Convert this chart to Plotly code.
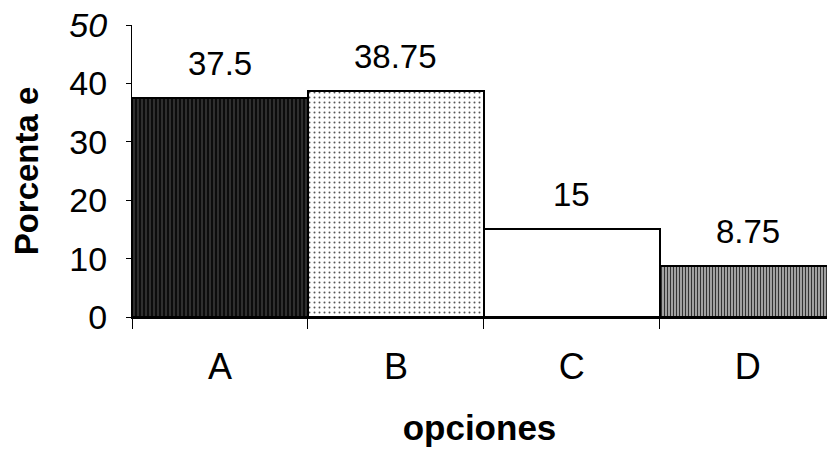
import plotly.graph_objects as go

categories = ["A", "B", "C", "D"]
values = [37.5, 38.75, 15, 8.75]
labels = ["37.5", "38.75", "15", "8.75"]
ytick_vals = [0, 10, 20, 30, 40, 50]
ytick_text = ["0", "10", "20", "30", "40", "<i>50</i>"]

fills = ["#111111", "#ffffff", "#ffffff", "#9a9a9a"]
patterns = [
    dict(shape="|", fgcolor="#a0a0a0", bgcolor="#0c0c0c", size=4, solidity=0.12, fillmode="replace"),
    dict(shape=".", fgcolor="#555555", bgcolor="#ffffff", size=5, solidity=0.12, fillmode="replace"),
    dict(shape="", fillmode="replace"),
    dict(shape="|", fgcolor="#333333", bgcolor="#b8b8b8", size=3, solidity=0.45, fillmode="replace"),
]

FONT = "Liberation Sans, Arial, sans-serif"

fig = go.Figure()
for c, v, f, p in zip(categories, values, fills, patterns):
    fig.add_trace(go.Bar(
        x=[c], y=[v], width=1.0,
        marker=dict(color=f, line=dict(color="black", width=2), pattern=p),
        showlegend=False,
    ))

for c, v, t in zip(categories, values, labels):
    fig.add_annotation(x=c, y=v, text=t, showarrow=False, yanchor="bottom", yshift=14,
                       font=dict(family=FONT, size=33, color="black"))

fig.update_layout(
    width=827, height=449,
    margin=dict(l=132, r=0, t=25, b=132),
    paper_bgcolor="white", plot_bgcolor="white",
    bargap=0, barmode="overlay",
    font=dict(family=FONT, color="black"),
    xaxis=dict(
        type="category", categoryorder="array", categoryarray=categories,
        range=[-0.5, 3.45], tickson="boundaries", ticks="outside", ticklen=10,
        tickcolor="black", tickwidth=1, showline=True, linecolor="black", linewidth=2,
        showgrid=False, tickfont=dict(size=36, family=FONT), ticklabelstandoff=17,
        automargin=False,
        title=dict(text="<b>opciones</b>", font=dict(size=35, family=FONT), standoff=29),
    ),
    yaxis=dict(
        range=[0, 50], tickvals=ytick_vals, ticktext=ytick_text,
        ticks="outside", ticklen=5, tickcolor="black", tickwidth=1,
        showline=True, linecolor="black", linewidth=1, showgrid=False, zeroline=False,
        tickfont=dict(size=34, family=FONT), ticklabelstandoff=12,
        automargin=False,
        title=dict(text="<b>Porcenta e</b>", font=dict(size=33, family=FONT), standoff=20),
    ),
)

fig.write_html("out.html", config={"displayModeBar": False},
               post_script="document.body.style.margin='0px';")
